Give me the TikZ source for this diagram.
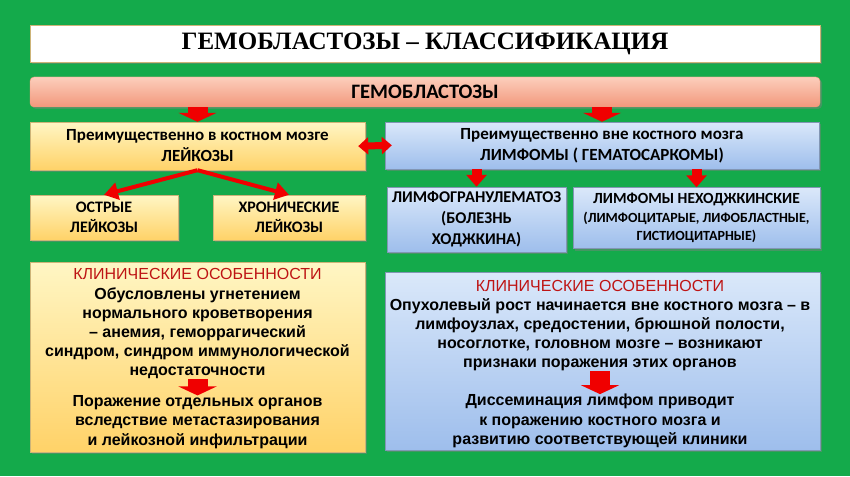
\documentclass[tikz,border=0pt]{standalone}
\usepackage{fontspec}
\setmainfont{Liberation Sans}
\newfontfamily\calfont{Carlito}
\newfontfamily\headfont{Liberation Serif}
\usepackage{tikz}
\usetikzlibrary{arrows.meta}
\usetikzlibrary{shadows}

\definecolor{bggreen}{RGB}{20,170,75}
\definecolor{arrred}{RGB}{240,0,0}
\definecolor{headred}{RGB}{190,20,20}
\definecolor{ytop}{RGB}{255,246,196}
\definecolor{ybot}{RGB}{255,210,104}
\definecolor{yedge}{RGB}{205,180,120}
\definecolor{btop}{RGB}{218,232,250}
\definecolor{bbot}{RGB}{158,190,236}
\definecolor{bedge}{RGB}{130,150,180}
\definecolor{stop}{RGB}{252,206,188}
\definecolor{sbot}{RGB}{242,152,124}

\tikzset{
    boxshadow/.style = {drop shadow = {shadow xshift = 2pt, shadow yshift = -2pt, opacity = 0.45}},
    yellowbox/.style = {draw = yedge, top color = ytop, bottom color = ybot, boxshadow},
    bluebox/.style = {draw = bedge, top color = btop, bottom color = bbot, boxshadow},
    captxt/.style = {font = \calfont\bfseries\fontsize{17}{21}\selectfont},
    smalltxt/.style = {font = \calfont\bfseries\fontsize{16}{20.5}\selectfont},
    bodytxt/.style = {font = \bfseries\fontsize{16}{19.2}\selectfont},
    bigdown/.style = {arrred, line width = 20pt, -{Triangle[length = 9pt, width = 38pt]}},
    smalldown/.style = {arrred, line width = 10pt, -{Triangle[length = 12pt, width = 20pt]}},
    twoway/.style = {arrred, line width = 7pt, {Triangle[length = 10pt, width = 17pt]}-{Triangle[length = 10pt, width = 17pt]}},
    thinred/.style = {arrred, line width = 4pt, -{Triangle[length = 14pt, width = 17pt]}}
}

\begin{document}
\begin{tikzpicture}[x = 1pt, y = -1pt, every node/.style = {inner sep = 0pt, align = center}]
    \fill [bggreen] (0, 0) rectangle (850, 476);
    \useasboundingbox (0, 0) rectangle (850, 476);

    \node [draw = yedge, fill = white, boxshadow, minimum width = 790pt, minimum height = 37pt] (title) at (425, 43.5)
        {\headfont\bfseries\fontsize{25}{30}\selectfont ГЕМОБЛАСТОЗЫ – КЛАССИФИКАЦИЯ};
    \node [draw = sbot, top color = stop, bottom color = sbot, rounded corners = 4pt, boxshadow,
        minimum width = 790pt, minimum height = 30pt, font = \calfont\bfseries\fontsize{20.5}{24}\selectfont] (gb) at (425, 92) {ГЕМОБЛАСТОЗЫ};

    \node [yellowbox, captxt, minimum width = 335pt, minimum height = 48pt] (lk) at (197.5, 146)
        {Преимущественно в костном мозге\\ЛЕЙКОЗЫ};
    \node [bluebox, captxt, minimum width = 434pt, minimum height = 47pt] (lf) at (602, 145.5)
        {Преимущественно вне костного мозга\\ЛИМФОМЫ ( ГЕМАТОСАРКОМЫ)};

    \node [yellowbox, smalltxt, minimum width = 148pt, minimum height = 45pt] (ol) at (104, 217.5) {ОСТРЫЕ\\ЛЕЙКОЗЫ};
    \node [yellowbox, smalltxt, minimum width = 152pt, minimum height = 45pt] (hl) at (289, 217.5) {ХРОНИЧЕСКИЕ\\ЛЕЙКОЗЫ};
    \node [bluebox, font = \calfont\bfseries\fontsize{16.4}{21}\selectfont, minimum width = 179pt, minimum height = 65pt] (lg) at (476.5, 219.5)
        {ЛИМФОГРАНУЛЕМАТОЗ\\(БОЛЕЗНЬ\\ХОДЖКИНА)};
    \node [bluebox, font = \calfont\bfseries\fontsize{14}{18.5}\selectfont, minimum width = 247pt, minimum height = 61pt] (nh) at (696.5, 218)
        {{\fontsize{15.5}{18.5}\selectfont ЛИМФОМЫ НЕХОДЖКИНСКИЕ}\\
        (ЛИМФОЦИТАРЫЕ, ЛИФОБЛАСТНЫЕ,\\ГИСТИОЦИТАРНЫЕ)};

    \node [yellowbox, minimum width = 335pt, minimum height = 190pt] (kl) at (197.5, 357) {};
    \node [bluebox, minimum width = 435pt, minimum height = 178pt] (kr) at (602.5, 361) {};

    \node [bodytxt] (klt) at (197.5, 324)
        {{\color{headred}\mdseries КЛИНИЧЕСКИЕ ОСОБЕННОСТИ}\\
        Обусловлены угнетением\\нормального кроветворения\\– анемия, геморрагический\\
        синдром, синдром иммунологической\\недостаточности};
    \node [bodytxt] (klb) at (197.5, 422)
        {Поражение отдельных органов\\вследствие метастазирования\\и лейкозной инфильтрации};
    \node [bodytxt] (krt) at (600, 325.5)
        {{\color{headred}\mdseries КЛИНИЧЕСКИЕ ОСОБЕННОСТИ}\\
        Опухолевый рост начинается вне костного мозга – в\\лимфоузлах, средостении, брюшной полости,\\
        носоглотке, головном мозге – возникают\\признаки поражения этих органов};
    \node [bodytxt] (krb) at (600, 421)
        {Диссеминация лимфом приводит\\к поражению костного мозга и\\развитию соответствующей клиники};

    \draw [bigdown] (lk.north |- gb.south) -- (lk.north);
    \draw [bigdown] (lf.north |- gb.south) -- (lf.north);
    \draw [twoway, shorten <= -7pt, shorten >= -7pt] (lk.east) -- (lf.west);
    \draw [thinred] (lk.south) -- (ol.north);
    \draw [thinred] (lk.south) -- (hl.north);
    \draw [smalldown] (lg.north |- lf.south) -- (lg.north);
    \draw [smalldown] (nh.north |- lf.south) -- (nh.north);
    \draw [bigdown] (klt.south) -- (klb.north);
    \draw [bigdown] (krt.south) -- (krb.north);
\end{tikzpicture}
\end{document}
